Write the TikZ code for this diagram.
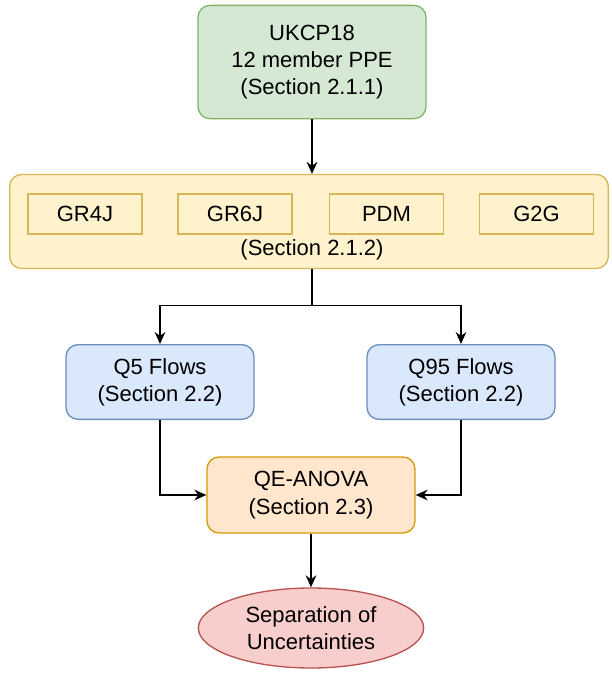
\documentclass[tikz,border=0pt]{standalone}
\usepackage{fontspec}
\setmainfont{Liberation Sans}
\usetikzlibrary{arrows.meta,shapes.geometric}

\definecolor{greenfill}{HTML}{D5E8D4}
\definecolor{greenline}{HTML}{82B366}
\definecolor{yellowfill}{HTML}{FFF2CC}
\definecolor{yellowline}{HTML}{D6B656}
\definecolor{bluefill}{HTML}{DAE8FC}
\definecolor{blueline}{HTML}{6C8EBF}
\definecolor{orangefill}{HTML}{FFE6CC}
\definecolor{orangeline}{HTML}{D79B00}
\definecolor{redfill}{HTML}{F8CECC}
\definecolor{redline}{HTML}{B85450}

\tikzset{
	every picture/.style={line width=0.75pt},
	box/.style={draw, rounded corners=9pt, line width=1pt, align=center, inner sep=0pt,
		font=\fontsize{16.5}{20.5}\selectfont},
	modelbox/.style={draw=yellowline, fill=yellowfill, line width=1pt, inner sep=0pt,
		minimum width=85.5pt, minimum height=30pt, font=\fontsize{16.5}{20.5}\selectfont},
	flow/.style={-{Stealth[length=9pt,width=8pt]}, line width=1.1pt}
}

\begin{document}
\begin{tikzpicture}[x=0.75pt,y=0.75pt,yscale=-1,xscale=1]
	\useasboundingbox (0,0) rectangle (611,682);

	% Text Node: ensemble
	\node [box, draw=greenline, fill=greenfill, minimum width=171pt, minimum height=85pt] (ukcp) at (312,62) {UKCP18\\12 member PPE\\(Section 2.1.1)};
	% Rectangle: hydrological models
	\node [box, draw=yellowline, fill=yellowfill, minimum width=449pt, minimum height=70.5pt] (models) at (309,221.5) {};
	\node [modelbox] (gr4j) at (85,214) {GR4J};
	\node [modelbox] (gr6j) at (235,214) {GR6J};
	\node [modelbox] (pdm) at (386.5,214) {PDM};
	\node [modelbox] (g2g) at (536.5,214) {G2G};
	\node [font=\fontsize{16.5}{20.5}\selectfont] (modsec) at (312,250) {(Section 2.1.2)};
	% Text Node: flows
	\node [box, draw=blueline, fill=bluefill, minimum width=141pt, minimum height=56pt] (q5) at (160,382) {Q5 Flows\\(Section 2.2)};
	\node [box, draw=blueline, fill=bluefill, minimum width=141pt, minimum height=56pt] (q95) at (461,382) {Q95 Flows\\(Section 2.2)};
	% Text Node: anova
	\node [box, draw=orangeline, fill=orangefill, minimum width=156pt, minimum height=57pt] (anova) at (311,495) {QE-ANOVA\\(Section 2.3)};
	% Shape: Ellipse
	\node [ellipse, draw=redline, fill=redfill, line width=1pt, inner sep=0pt, align=center,
		minimum width=169pt, minimum height=60pt, font=\fontsize{16.5}{20.5}\selectfont] (sep) at (311,628) {Separation of\\Uncertainties};

	% Straight Lines
	\coordinate (split) at (312,305.5);
	\draw [flow] (ukcp.south) -- (models.north -| ukcp.south);
	\draw [line width=1.1pt] (models.south -| split) -- (split);
	\draw [flow] (split) -| (q5.north);
	\draw [flow] (split) -| (q95.north);
	\draw [flow] (q5.south) |- (anova.west);
	\draw [flow] (q95.south) |- (anova.east);
	\draw [flow] (anova.south) -- (sep.north);

\end{tikzpicture}
\end{document}
